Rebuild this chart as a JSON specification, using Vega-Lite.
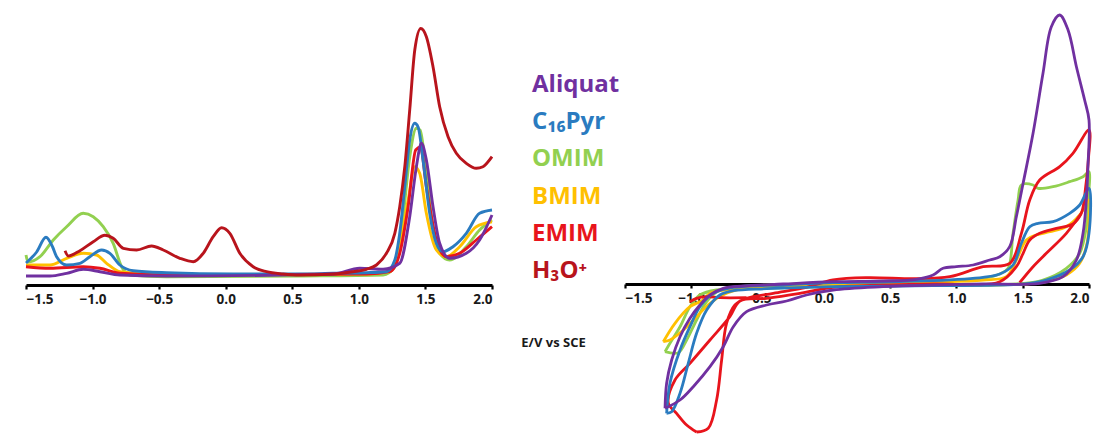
{
  "$schema": "https://vega.github.io/schema/vega-lite/v6.json",
  "background": "white",
  "padding": {"left": 20, "top": 0, "right": 0, "bottom": 0},
  "bounds": "flush",
  "spacing": 133,
  "config": {
    "view": {"stroke": null},
    "axis": {"labelFont": "Open Sans", "labelFontWeight": "bold", "labelFontSize": 13.5, "labelColor": "#1a1a1a", "domainColor": "#000000", "domainWidth": 2.8, "tickColor": "#000000", "tickWidth": 2.2, "tickSize": 4, "labelPadding": 3, "grid": false}
  },
  "datasets": {
    "left": [
      {"s":"OMIM","x":-1.5,"y":30},{"s":"OMIM","x":-1.485,"y":23},{"s":"OMIM","x":-1.395,"y":28.3},{"s":"OMIM","x":-1.295,"y":45},{"s":"OMIM","x":-1.195,"y":58.3},{"s":"OMIM","x":-1.07,"y":71.7},{"s":"OMIM","x":-0.995,"y":68.3},{"s":"OMIM","x":-0.92,"y":58.3},{"s":"OMIM","x":-0.845,"y":41.7},{"s":"OMIM","x":-0.782,"y":18.3},{"s":"OMIM","x":-0.719,"y":10},{"s":"OMIM","x":-0.444,"y":8.3},{"s":"OMIM","x":0.557,"y":9},{"s":"OMIM","x":1.182,"y":10},{"s":"OMIM","x":1.27,"y":18},{"s":"OMIM","x":1.332,"y":68.3},{"s":"OMIM","x":1.382,"y":128},{"s":"OMIM","x":1.432,"y":156.7},{"s":"OMIM","x":1.46,"y":155},{"s":"OMIM","x":1.507,"y":111.7},{"s":"OMIM","x":1.557,"y":58.3},{"s":"OMIM","x":1.607,"y":31.7},{"s":"OMIM","x":1.682,"y":25},{"s":"OMIM","x":1.807,"y":38.3},{"s":"OMIM","x":1.907,"y":55},{"s":"OMIM","x":2.0,"y":65},
      {"s":"BMIM","x":-1.5,"y":20},{"s":"BMIM","x":-1.32,"y":20},{"s":"BMIM","x":-1.195,"y":26.7},{"s":"BMIM","x":-1.07,"y":31.7},{"s":"BMIM","x":-0.97,"y":30},{"s":"BMIM","x":-0.895,"y":21.7},{"s":"BMIM","x":-0.795,"y":13.3},{"s":"BMIM","x":-0.444,"y":10},{"s":"BMIM","x":1.057,"y":11},{"s":"BMIM","x":1.232,"y":13.3},{"s":"BMIM","x":1.307,"y":38.3},{"s":"BMIM","x":1.37,"y":85},{"s":"BMIM","x":1.42,"y":118.3},{"s":"BMIM","x":1.457,"y":111.7},{"s":"BMIM","x":1.507,"y":71.7},{"s":"BMIM","x":1.582,"y":35},{"s":"BMIM","x":1.657,"y":28.3},{"s":"BMIM","x":1.757,"y":38.3},{"s":"BMIM","x":1.882,"y":58.3},{"s":"BMIM","x":2.0,"y":63.3},
      {"s":"EMIM","x":-1.5,"y":18.3},{"s":"EMIM","x":-1.32,"y":16.7},{"s":"EMIM","x":-1.07,"y":18.3},{"s":"EMIM","x":-0.945,"y":16.7},{"s":"EMIM","x":-0.795,"y":11.7},{"s":"EMIM","x":-0.444,"y":10},{"s":"EMIM","x":1.057,"y":11},{"s":"EMIM","x":1.232,"y":13.3},{"s":"EMIM","x":1.307,"y":31.7},{"s":"EMIM","x":1.37,"y":78.3},{"s":"EMIM","x":1.427,"y":135},{"s":"EMIM","x":1.462,"y":138},{"s":"EMIM","x":1.507,"y":98.3},{"s":"EMIM","x":1.582,"y":45},{"s":"EMIM","x":1.657,"y":28.3},{"s":"EMIM","x":1.757,"y":31.7},{"s":"EMIM","x":1.882,"y":45},{"s":"EMIM","x":2.0,"y":58.3},
      {"s":"C₁₆Pyr","x":-1.5,"y":22},{"s":"C₁₆Pyr","x":-1.42,"y":33},{"s":"C₁₆Pyr","x":-1.35,"y":47.7},{"s":"C₁₆Pyr","x":-1.3,"y":38},{"s":"C₁₆Pyr","x":-1.27,"y":28.3},{"s":"C₁₆Pyr","x":-1.195,"y":20},{"s":"C₁₆Pyr","x":-1.095,"y":21.7},{"s":"C₁₆Pyr","x":-1.02,"y":28.3},{"s":"C₁₆Pyr","x":-0.932,"y":35},{"s":"C₁₆Pyr","x":-0.87,"y":31.7},{"s":"C₁₆Pyr","x":-0.795,"y":20},{"s":"C₁₆Pyr","x":-0.694,"y":14.3},{"s":"C₁₆Pyr","x":-0.444,"y":12.3},{"s":"C₁₆Pyr","x":0.056,"y":11},{"s":"C₁₆Pyr","x":0.557,"y":11},{"s":"C₁₆Pyr","x":0.807,"y":11.7},{"s":"C₁₆Pyr","x":1.057,"y":12.3},{"s":"C₁₆Pyr","x":1.207,"y":13.3},{"s":"C₁₆Pyr","x":1.27,"y":25},{"s":"C₁₆Pyr","x":1.307,"y":51.7},{"s":"C₁₆Pyr","x":1.345,"y":98.3},{"s":"C₁₆Pyr","x":1.382,"y":145},{"s":"C₁₆Pyr","x":1.42,"y":161.7},{"s":"C₁₆Pyr","x":1.445,"y":158},{"s":"C₁₆Pyr","x":1.482,"y":125},{"s":"C₁₆Pyr","x":1.532,"y":71.7},{"s":"C₁₆Pyr","x":1.582,"y":41.7},{"s":"C₁₆Pyr","x":1.632,"y":33.3},{"s":"C₁₆Pyr","x":1.707,"y":38.3},{"s":"C₁₆Pyr","x":1.807,"y":51.7},{"s":"C₁₆Pyr","x":1.907,"y":71.7},{"s":"C₁₆Pyr","x":2.0,"y":75},
      {"s":"Aliquat","x":-1.5,"y":9},{"s":"Aliquat","x":-1.32,"y":9},{"s":"Aliquat","x":-1.195,"y":11.7},{"s":"Aliquat","x":-1.07,"y":15.7},{"s":"Aliquat","x":-0.945,"y":13.3},{"s":"Aliquat","x":-0.795,"y":10},{"s":"Aliquat","x":-0.444,"y":9},{"s":"Aliquat","x":0.807,"y":11},{"s":"Aliquat","x":1.007,"y":16.7},{"s":"Aliquat","x":1.182,"y":15.7},{"s":"Aliquat","x":1.307,"y":21.7},{"s":"Aliquat","x":1.382,"y":68.3},{"s":"Aliquat","x":1.432,"y":118.3},{"s":"Aliquat","x":1.47,"y":141.7},{"s":"Aliquat","x":1.507,"y":125},{"s":"Aliquat","x":1.557,"y":78.3},{"s":"Aliquat","x":1.607,"y":41.7},{"s":"Aliquat","x":1.682,"y":26.7},{"s":"Aliquat","x":1.807,"y":31.7},{"s":"Aliquat","x":1.907,"y":45},{"s":"Aliquat","x":2.0,"y":70},
      {"s":"H₃O⁺","x":-1.207,"y":34.3},{"s":"H₃O⁺","x":-1.182,"y":29},{"s":"H₃O⁺","x":-1.095,"y":34.3},{"s":"H₃O⁺","x":-0.995,"y":43.3},{"s":"H₃O⁺","x":-0.907,"y":49.7},{"s":"H₃O⁺","x":-0.845,"y":46.7},{"s":"H₃O⁺","x":-0.769,"y":36.7},{"s":"H₃O⁺","x":-0.669,"y":35},{"s":"H₃O⁺","x":-0.557,"y":39},{"s":"H₃O⁺","x":-0.469,"y":35},{"s":"H₃O⁺","x":-0.344,"y":26.7},{"s":"H₃O⁺","x":-0.244,"y":23.3},{"s":"H₃O⁺","x":-0.169,"y":31.7},{"s":"H₃O⁺","x":-0.094,"y":48.3},{"s":"H₃O⁺","x":-0.031,"y":57.3},{"s":"H₃O⁺","x":0.031,"y":51.7},{"s":"H₃O⁺","x":0.106,"y":31.7},{"s":"H₃O⁺","x":0.206,"y":18.3},{"s":"H₃O⁺","x":0.306,"y":13.3},{"s":"H₃O⁺","x":0.431,"y":11},{"s":"H₃O⁺","x":0.557,"y":10},{"s":"H₃O⁺","x":0.807,"y":11},{"s":"H₃O⁺","x":0.957,"y":13.3},{"s":"H₃O⁺","x":1.057,"y":15.7},{"s":"H₃O⁺","x":1.132,"y":20},{"s":"H₃O⁺","x":1.207,"y":31.7},{"s":"H₃O⁺","x":1.27,"y":51.7},{"s":"H₃O⁺","x":1.307,"y":78.3},{"s":"H₃O⁺","x":1.345,"y":118.3},{"s":"H₃O⁺","x":1.382,"y":175},{"s":"H₃O⁺","x":1.42,"y":235},{"s":"H₃O⁺","x":1.465,"y":256.5},{"s":"H₃O⁺","x":1.507,"y":248.3},{"s":"H₃O⁺","x":1.557,"y":218.3},{"s":"H₃O⁺","x":1.607,"y":178.3},{"s":"H₃O⁺","x":1.67,"y":148.3},{"s":"H₃O⁺","x":1.732,"y":131.7},{"s":"H₃O⁺","x":1.807,"y":121.7},{"s":"H₃O⁺","x":1.882,"y":116.7},{"s":"H₃O⁺","x":1.932,"y":118.3},{"s":"H₃O⁺","x":2.0,"y":128.3}
    ],
    "right": [
      {"s":"OMIM","g":1,"i":1,"x":-1.198,"y":-67.7},{"s":"OMIM","g":1,"i":2,"x":-1.098,"y":-68.7},{"s":"OMIM","g":1,"i":3,"x":-1.035,"y":-56},{"s":"OMIM","g":1,"i":4,"x":-0.96,"y":-36},{"s":"OMIM","g":1,"i":5,"x":-0.884,"y":-17.7},{"s":"OMIM","g":1,"i":6,"x":-0.784,"y":-6},{"s":"OMIM","g":1,"i":7,"x":-0.558,"y":-2},{"s":"OMIM","g":1,"i":8,"x":0.07,"y":0.7},{"s":"OMIM","g":1,"i":9,"x":0.824,"y":3},{"s":"OMIM","g":1,"i":10,"x":1.201,"y":5.7},{"s":"OMIM","g":1,"i":11,"x":1.327,"y":10},{"s":"OMIM","g":1,"i":12,"x":1.39,"y":15.7},{"s":"OMIM","g":1,"i":13,"x":1.427,"y":50.7},{"s":"OMIM","g":1,"i":14,"x":1.465,"y":84},{"s":"OMIM","g":1,"i":15,"x":1.49,"y":99},{"s":"OMIM","g":1,"i":16,"x":1.578,"y":99},{"s":"OMIM","g":1,"i":17,"x":1.616,"y":95.7},{"s":"OMIM","g":1,"i":18,"x":1.729,"y":97.3},{"s":"OMIM","g":1,"i":19,"x":1.854,"y":102.3},{"s":"OMIM","g":1,"i":20,"x":1.955,"y":107.3},{"s":"OMIM","g":1,"i":21,"x":2.0,"y":112.3},{"s":"OMIM","g":1,"i":22,"x":2.0,"y":94},{"s":"OMIM","g":1,"i":23,"x":1.98,"y":57.3},{"s":"OMIM","g":1,"i":24,"x":1.93,"y":30.7},{"s":"OMIM","g":1,"i":25,"x":1.829,"y":15.7},{"s":"OMIM","g":1,"i":26,"x":1.653,"y":4},{"s":"OMIM","g":1,"i":27,"x":1.452,"y":0},{"s":"OMIM","g":1,"i":28,"x":0.824,"y":-1.3},{"s":"OMIM","g":1,"i":29,"x":0.07,"y":-2.7},{"s":"OMIM","g":1,"i":30,"x":-0.558,"y":-4.7},{"s":"OMIM","g":1,"i":31,"x":-0.809,"y":-6},{"s":"OMIM","g":1,"i":32,"x":-0.935,"y":-11},{"s":"OMIM","g":1,"i":33,"x":-1.01,"y":-22.7},{"s":"OMIM","g":1,"i":34,"x":-1.085,"y":-42.7},{"s":"OMIM","g":1,"i":35,"x":-1.161,"y":-59.3},{"s":"OMIM","g":1,"i":36,"x":-1.198,"y":-67.7},
      {"s":"BMIM","g":1,"i":1,"x":-1.211,"y":-57.7},{"s":"BMIM","g":1,"i":2,"x":-1.161,"y":-56},{"s":"BMIM","g":1,"i":3,"x":-1.06,"y":-46},{"s":"BMIM","g":1,"i":4,"x":-0.96,"y":-32.7},{"s":"BMIM","g":1,"i":5,"x":-0.859,"y":-19.3},{"s":"BMIM","g":1,"i":6,"x":-0.734,"y":-9.3},{"s":"BMIM","g":1,"i":7,"x":-0.558,"y":-3.3},{"s":"BMIM","g":1,"i":8,"x":0.07,"y":0},{"s":"BMIM","g":1,"i":9,"x":0.824,"y":2},{"s":"BMIM","g":1,"i":10,"x":1.201,"y":4},{"s":"BMIM","g":1,"i":11,"x":1.377,"y":7.3},{"s":"BMIM","g":1,"i":12,"x":1.452,"y":24},{"s":"BMIM","g":1,"i":13,"x":1.528,"y":44},{"s":"BMIM","g":1,"i":14,"x":1.603,"y":49},{"s":"BMIM","g":1,"i":15,"x":1.704,"y":52.3},{"s":"BMIM","g":1,"i":16,"x":1.829,"y":57.3},{"s":"BMIM","g":1,"i":17,"x":1.93,"y":69},{"s":"BMIM","g":1,"i":18,"x":2.0,"y":84},{"s":"BMIM","g":1,"i":19,"x":2.0,"y":64},{"s":"BMIM","g":1,"i":20,"x":1.985,"y":40.7},{"s":"BMIM","g":1,"i":21,"x":1.93,"y":20.7},{"s":"BMIM","g":1,"i":22,"x":1.829,"y":9},{"s":"BMIM","g":1,"i":23,"x":1.678,"y":2.3},{"s":"BMIM","g":1,"i":24,"x":1.528,"y":0},{"s":"BMIM","g":1,"i":25,"x":0.824,"y":-1},{"s":"BMIM","g":1,"i":26,"x":0.07,"y":-2},{"s":"BMIM","g":1,"i":27,"x":-0.558,"y":-4.3},{"s":"BMIM","g":1,"i":28,"x":-0.859,"y":-9.3},{"s":"BMIM","g":1,"i":29,"x":-0.91,"y":-16},{"s":"BMIM","g":1,"i":30,"x":-1.01,"y":-22.7},{"s":"BMIM","g":1,"i":31,"x":-1.123,"y":-39.3},{"s":"BMIM","g":1,"i":32,"x":-1.211,"y":-57.7},
      {"s":"EMIM","g":1,"i":1,"x":-0.96,"y":-148},{"s":"EMIM","g":1,"i":2,"x":-0.872,"y":-144.3},{"s":"EMIM","g":1,"i":3,"x":-0.809,"y":-116},{"s":"EMIM","g":1,"i":4,"x":-0.771,"y":-76},{"s":"EMIM","g":1,"i":5,"x":-0.734,"y":-39.3},{"s":"EMIM","g":1,"i":6,"x":-0.671,"y":-21},{"s":"EMIM","g":1,"i":7,"x":-0.583,"y":-14.3},{"s":"EMIM","g":1,"i":8,"x":-0.382,"y":-9.3},{"s":"EMIM","g":1,"i":9,"x":-0.131,"y":-3.3},{"s":"EMIM","g":1,"i":10,"x":0.07,"y":4},{"s":"EMIM","g":1,"i":11,"x":0.322,"y":6.3},{"s":"EMIM","g":1,"i":12,"x":0.698,"y":5.3},{"s":"EMIM","g":1,"i":13,"x":0.95,"y":7.3},{"s":"EMIM","g":1,"i":14,"x":1.201,"y":17.3},{"s":"EMIM","g":1,"i":15,"x":1.402,"y":20.7},{"s":"EMIM","g":1,"i":16,"x":1.49,"y":50.7},{"s":"EMIM","g":1,"i":17,"x":1.553,"y":84},{"s":"EMIM","g":1,"i":18,"x":1.628,"y":104},{"s":"EMIM","g":1,"i":19,"x":1.779,"y":117.3},{"s":"EMIM","g":1,"i":20,"x":1.879,"y":130.7},{"s":"EMIM","g":1,"i":21,"x":2.0,"y":154},{"s":"EMIM","g":1,"i":22,"x":1.995,"y":124},{"s":"EMIM","g":1,"i":23,"x":1.975,"y":97.3},{"s":"EMIM","g":1,"i":24,"x":1.942,"y":70.7},{"s":"EMIM","g":1,"i":25,"x":1.879,"y":60},{"s":"EMIM","g":1,"i":26,"x":1.754,"y":55.7},{"s":"EMIM","g":1,"i":27,"x":1.628,"y":50.7},{"s":"EMIM","g":1,"i":28,"x":1.553,"y":44},{"s":"EMIM","g":1,"i":29,"x":1.503,"y":30.7},{"s":"EMIM","g":1,"i":30,"x":1.452,"y":17.3},{"s":"EMIM","g":1,"i":31,"x":1.327,"y":2.3},{"s":"EMIM","g":1,"i":32,"x":0.824,"y":0},{"s":"EMIM","g":1,"i":33,"x":0.447,"y":-1},{"s":"EMIM","g":1,"i":34,"x":0.07,"y":-3.3},{"s":"EMIM","g":1,"i":35,"x":-0.181,"y":-9.3},{"s":"EMIM","g":1,"i":36,"x":-0.432,"y":-14.3},{"s":"EMIM","g":1,"i":37,"x":-0.633,"y":-17},{"s":"EMIM","g":1,"i":38,"x":-0.709,"y":-32.7},{"s":"EMIM","g":1,"i":39,"x":-0.859,"y":-56},{"s":"EMIM","g":1,"i":40,"x":-1.01,"y":-79.3},{"s":"EMIM","g":1,"i":41,"x":-1.123,"y":-96},{"s":"EMIM","g":1,"i":42,"x":-1.173,"y":-119.3},{"s":"EMIM","g":1,"i":43,"x":-1.111,"y":-129.3},{"s":"EMIM","g":1,"i":44,"x":-1.035,"y":-141},{"s":"EMIM","g":1,"i":45,"x":-0.96,"y":-148},
      {"s":"EMIM","g":2,"i":1,"x":-0.583,"y":-13.7},{"s":"EMIM","g":2,"i":2,"x":-0.784,"y":-13.7},{"s":"EMIM","g":2,"i":3,"x":-0.884,"y":-12.7},{"s":"EMIM","g":2,"i":4,"x":-0.96,"y":-14.3},{"s":"EMIM","g":2,"i":5,"x":-1.01,"y":-17.7},
      {"s":"EMIM","g":3,"i":1,"x":1.477,"y":1.3},{"s":"EMIM","g":3,"i":2,"x":1.578,"y":17.3},{"s":"EMIM","g":3,"i":3,"x":1.678,"y":30.7},{"s":"EMIM","g":3,"i":4,"x":1.829,"y":50.7},{"s":"EMIM","g":3,"i":5,"x":1.942,"y":70.7},
      {"s":"C₁₆Pyr","g":1,"i":1,"x":-1.186,"y":-129.3},{"s":"C₁₆Pyr","g":1,"i":2,"x":-1.161,"y":-99.3},{"s":"C₁₆Pyr","g":1,"i":3,"x":-1.085,"y":-66},{"s":"C₁₆Pyr","g":1,"i":4,"x":-1.01,"y":-42.7},{"s":"C₁₆Pyr","g":1,"i":5,"x":-0.935,"y":-22.7},{"s":"C₁₆Pyr","g":1,"i":6,"x":-0.834,"y":-9.3},{"s":"C₁₆Pyr","g":1,"i":7,"x":-0.683,"y":-3.3},{"s":"C₁₆Pyr","g":1,"i":8,"x":-0.307,"y":-1},{"s":"C₁₆Pyr","g":1,"i":9,"x":0.07,"y":1.3},{"s":"C₁₆Pyr","g":1,"i":10,"x":0.447,"y":2},{"s":"C₁₆Pyr","g":1,"i":11,"x":0.824,"y":3.3},{"s":"C₁₆Pyr","g":1,"i":12,"x":1.201,"y":6.7},{"s":"C₁₆Pyr","g":1,"i":13,"x":1.327,"y":10},{"s":"C₁₆Pyr","g":1,"i":14,"x":1.427,"y":19},{"s":"C₁₆Pyr","g":1,"i":15,"x":1.49,"y":40.7},{"s":"C₁₆Pyr","g":1,"i":16,"x":1.553,"y":57.3},{"s":"C₁₆Pyr","g":1,"i":17,"x":1.616,"y":60.7},{"s":"C₁₆Pyr","g":1,"i":18,"x":1.729,"y":62.3},{"s":"C₁₆Pyr","g":1,"i":19,"x":1.854,"y":70.7},{"s":"C₁₆Pyr","g":1,"i":20,"x":1.93,"y":79},{"s":"C₁₆Pyr","g":1,"i":21,"x":2.0,"y":95.7},{"s":"C₁₆Pyr","g":1,"i":22,"x":2.0,"y":50.7},{"s":"C₁₆Pyr","g":1,"i":23,"x":1.955,"y":27.3},{"s":"C₁₆Pyr","g":1,"i":24,"x":1.854,"y":14},{"s":"C₁₆Pyr","g":1,"i":25,"x":1.678,"y":4},{"s":"C₁₆Pyr","g":1,"i":26,"x":1.503,"y":0},{"s":"C₁₆Pyr","g":1,"i":27,"x":0.824,"y":-1.7},{"s":"C₁₆Pyr","g":1,"i":28,"x":0.07,"y":-2.7},{"s":"C₁₆Pyr","g":1,"i":29,"x":-0.432,"y":-4.7},{"s":"C₁₆Pyr","g":1,"i":30,"x":-0.683,"y":-6.7},{"s":"C₁₆Pyr","g":1,"i":31,"x":-0.784,"y":-11},{"s":"C₁₆Pyr","g":1,"i":32,"x":-0.884,"y":-26},{"s":"C₁₆Pyr","g":1,"i":33,"x":-0.96,"y":-49.3},{"s":"C₁₆Pyr","g":1,"i":34,"x":-1.023,"y":-79.3},{"s":"C₁₆Pyr","g":1,"i":35,"x":-1.085,"y":-109.3},{"s":"C₁₆Pyr","g":1,"i":36,"x":-1.148,"y":-127.7},{"s":"C₁₆Pyr","g":1,"i":37,"x":-1.186,"y":-129.3},
      {"s":"Aliquat","g":1,"i":1,"x":-1.198,"y":-124.3},{"s":"Aliquat","g":1,"i":2,"x":-1.186,"y":-99.3},{"s":"Aliquat","g":1,"i":3,"x":-1.148,"y":-76},{"s":"Aliquat","g":1,"i":4,"x":-1.085,"y":-52.7},{"s":"Aliquat","g":1,"i":5,"x":-1.01,"y":-34.3},{"s":"Aliquat","g":1,"i":6,"x":-0.935,"y":-21},{"s":"Aliquat","g":1,"i":7,"x":-0.859,"y":-11},{"s":"Aliquat","g":1,"i":8,"x":-0.759,"y":-4.3},{"s":"Aliquat","g":1,"i":9,"x":-0.608,"y":-2},{"s":"Aliquat","g":1,"i":10,"x":-0.307,"y":0},{"s":"Aliquat","g":1,"i":11,"x":0.07,"y":2.3},{"s":"Aliquat","g":1,"i":12,"x":0.447,"y":3},{"s":"Aliquat","g":1,"i":13,"x":0.698,"y":4.7},{"s":"Aliquat","g":1,"i":14,"x":0.824,"y":9},{"s":"Aliquat","g":1,"i":15,"x":0.899,"y":15.7},{"s":"Aliquat","g":1,"i":16,"x":1.0,"y":17.3},{"s":"Aliquat","g":1,"i":17,"x":1.126,"y":19},{"s":"Aliquat","g":1,"i":18,"x":1.251,"y":24},{"s":"Aliquat","g":1,"i":19,"x":1.327,"y":27.3},{"s":"Aliquat","g":1,"i":20,"x":1.402,"y":37.3},{"s":"Aliquat","g":1,"i":21,"x":1.452,"y":67.3},{"s":"Aliquat","g":1,"i":22,"x":1.503,"y":100.7},{"s":"Aliquat","g":1,"i":23,"x":1.578,"y":150.7},{"s":"Aliquat","g":1,"i":24,"x":1.653,"y":210.7},{"s":"Aliquat","g":1,"i":25,"x":1.716,"y":257.3},{"s":"Aliquat","g":1,"i":26,"x":1.779,"y":269},{"s":"Aliquat","g":1,"i":27,"x":1.842,"y":254},{"s":"Aliquat","g":1,"i":28,"x":1.905,"y":217.3},{"s":"Aliquat","g":1,"i":29,"x":1.967,"y":184},{"s":"Aliquat","g":1,"i":30,"x":2.0,"y":164},{"s":"Aliquat","g":1,"i":31,"x":1.992,"y":117.3},{"s":"Aliquat","g":1,"i":32,"x":1.98,"y":84},{"s":"Aliquat","g":1,"i":33,"x":1.955,"y":50.7},{"s":"Aliquat","g":1,"i":34,"x":1.905,"y":24},{"s":"Aliquat","g":1,"i":35,"x":1.804,"y":7.3},{"s":"Aliquat","g":1,"i":36,"x":1.628,"y":0.7},{"s":"Aliquat","g":1,"i":37,"x":1.201,"y":0},{"s":"Aliquat","g":1,"i":38,"x":0.824,"y":-1},{"s":"Aliquat","g":1,"i":39,"x":0.447,"y":-2.7},{"s":"Aliquat","g":1,"i":40,"x":0.07,"y":-6},{"s":"Aliquat","g":1,"i":41,"x":-0.131,"y":-11},{"s":"Aliquat","g":1,"i":42,"x":-0.281,"y":-17},{"s":"Aliquat","g":1,"i":43,"x":-0.432,"y":-21},{"s":"Aliquat","g":1,"i":44,"x":-0.583,"y":-27.7},{"s":"Aliquat","g":1,"i":45,"x":-0.683,"y":-42.7},{"s":"Aliquat","g":1,"i":46,"x":-0.759,"y":-62.7},{"s":"Aliquat","g":1,"i":47,"x":-0.859,"y":-82.7},{"s":"Aliquat","g":1,"i":48,"x":-0.985,"y":-102.7},{"s":"Aliquat","g":1,"i":49,"x":-1.085,"y":-116},{"s":"Aliquat","g":1,"i":50,"x":-1.198,"y":-124.3}
    ]
  },
  "hconcat": [
    {
      "width": 466,
      "height": 285,
      "data": {"name": "left"},
      "mark": {"type": "line", "strokeWidth": 2.9, "interpolate": "monotone"},
      "encoding": {
        "x": {"field": "x", "type": "quantitative", "scale": {"domain": [-1.5, 2], "nice": false}, "axis": {"title": null, "values": [-1.5, -1, -0.5, 0, 0.5, 1, 1.5, 2], "format": ".1f"}},
        "y": {"field": "y", "type": "quantitative", "scale": {"domain": [0, 285], "nice": false}, "axis": null},
        "color": {
          "field": "s", "type": "nominal",
          "scale": {"domain": ["Aliquat", "C₁₆Pyr", "OMIM", "BMIM", "EMIM", "H₃O⁺"], "range": ["#7030A0", "#2A7BC0", "#92D050", "#FFC000", "#E8141C", "#B8141C"]},
          "legend": {
            "orient": "none", "legendX": 482, "legendY": 73, "title": null,
            "labelFont": "Open Sans", "labelFontWeight": "bold", "labelFontSize": 24, "labelLimit": 300,
            "symbolSize": 0, "symbolOpacity": 0, "symbolStrokeWidth": 0, "labelOffset": 0, "rowPadding": 13.2,
            "encode": {"labels": {"update": {"fill": {"scale": "color", "field": "value"}}}}
          }
        }
      }
    },
    {
      "width": 464,
      "height": 434,
      "data": {"name": "right"},
      "mark": {"type": "line", "strokeWidth": 2.8, "interpolate": "catmull-rom"},
      "encoding": {
        "x": {"field": "x", "type": "quantitative", "scale": {"domain": [-1.5, 2], "nice": false}, "axis": {"offset": -150, "values": [-1.5, -1, -0.5, 0, 0.5, 1, 1.5, 2], "format": ".1f", "title": "E/V vs SCE", "titleFont": "Open Sans", "titleFontWeight": "bold", "titleFontSize": 13, "titleColor": "#1a1a1a", "titleX": -72, "titleY": 58, "titleAlign": "center", "titleBaseline": "middle"}},
        "y": {"field": "y", "type": "quantitative", "scale": {"domain": [-150, 284], "nice": false}, "axis": null},
        "color": {"field": "s", "type": "nominal"},
        "detail": {"field": "g"},
        "order": {"field": "i"}
      }
    }
  ]
}
